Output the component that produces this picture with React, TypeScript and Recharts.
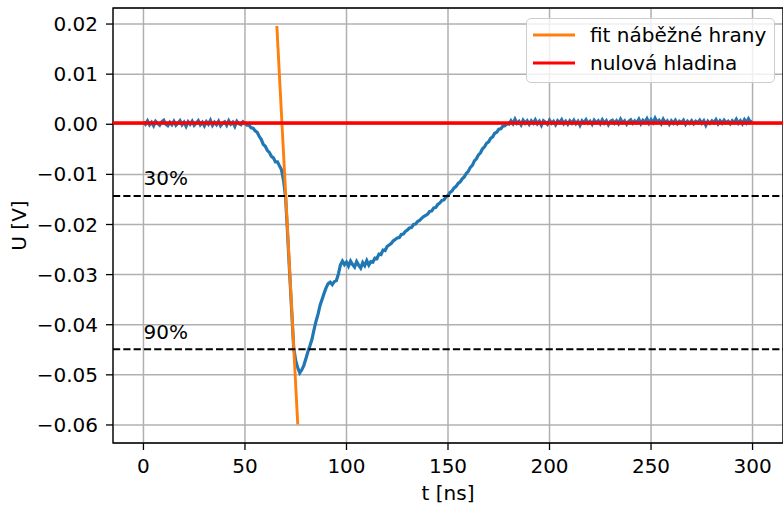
import { LineChart, Line, XAxis, YAxis, CartesianGrid, ReferenceLine, ReferenceArea, ReferenceDot, Legend } from 'recharts';

// sampling step of the scope trace [ns]
const T_STEP = 1;

// measured signal U [V], one sample per ns from 0 to 300 ns
const signalU = [
  0.0005, 0.0000, 0.0007, -0.0001, 0.0004, -0.0003, 0.0006, 0.0002, -0.0002, 0.0005,
  0.0008, 0.0000, -0.0003, 0.0004, -0.0001, 0.0006, -0.0002, 0.0002, 0.0007, -0.0001,
  0.0004, -0.0004, 0.0005, 0.0000, 0.0006, -0.0002, 0.0002, 0.0007, -0.0001, 0.0004,
  -0.0003, 0.0005, 0.0000, 0.0008, -0.0002, 0.0004, -0.0001, 0.0006, -0.0003, 0.0002,
  0.0005, -0.0002, 0.0007, 0.0000, 0.0004, -0.0004, 0.0006, 0.0001, -0.0001, 0.0005,
  0.0002, -0.0002, -0.0002, -0.0007, -0.0008, -0.0013, -0.0016, -0.0024, -0.0030, -0.0040,
  -0.0044, -0.0052, -0.0056, -0.0064, -0.0067, -0.0075, -0.0075, -0.0083, -0.0091, -0.0112,
  -0.0145, -0.0220, -0.0296, -0.0372, -0.0446, -0.0472, -0.0486, -0.0496, -0.0490, -0.0481,
  -0.0468, -0.0454, -0.0442, -0.0429, -0.0410, -0.0393, -0.0379, -0.0361, -0.0349, -0.0337,
  -0.0326, -0.0318, -0.0315, -0.0320, -0.0314, -0.0312, -0.0299, -0.0281, -0.0273, -0.0280,
  -0.0275, -0.0283, -0.0273, -0.0280, -0.0285, -0.0274, -0.0281, -0.0287, -0.0276, -0.0282,
  -0.0272, -0.0281, -0.0274, -0.0275, -0.0267, -0.0268, -0.0259, -0.0260, -0.0251, -0.0252,
  -0.0244, -0.0241, -0.0238, -0.0233, -0.0230, -0.0227, -0.0226, -0.0220, -0.0219, -0.0214,
  -0.0211, -0.0207, -0.0206, -0.0200, -0.0199, -0.0194, -0.0192, -0.0188, -0.0184, -0.0182,
  -0.0179, -0.0174, -0.0173, -0.0167, -0.0166, -0.0160, -0.0157, -0.0152, -0.0151, -0.0145,
  -0.0142, -0.0136, -0.0133, -0.0127, -0.0124, -0.0118, -0.0115, -0.0109, -0.0105, -0.0098,
  -0.0094, -0.0086, -0.0082, -0.0073, -0.0069, -0.0061, -0.0057, -0.0049, -0.0045, -0.0038,
  -0.0035, -0.0028, -0.0025, -0.0018, -0.0016, -0.0010, -0.0009, -0.0004, -0.0003, 0.0001,
  0.0000, 0.0007, 0.0001, 0.0010, 0.0002, 0.0006, -0.0001, 0.0008, 0.0002, 0.0007,
  0.0000, 0.0007, 0.0002, 0.0009, 0.0001, 0.0006, -0.0002, 0.0007, 0.0004, 0.0000,
  0.0008, 0.0002, 0.0006, -0.0001, 0.0007, 0.0003, 0.0009, 0.0001, 0.0006, 0.0000,
  0.0007, 0.0002, 0.0008, 0.0001, 0.0006, -0.0002, 0.0007, 0.0003, 0.0009, 0.0002,
  0.0006, 0.0000, 0.0008, 0.0003, 0.0007, 0.0001, 0.0009, 0.0002, 0.0007, -0.0001,
  0.0006, 0.0008, 0.0002, 0.0007, 0.0001, 0.0010, 0.0003, 0.0007, 0.0000, 0.0006,
  0.0009, 0.0002, 0.0007, 0.0003, 0.0010, 0.0001, 0.0008, 0.0004, 0.0011, 0.0002,
  0.0009, 0.0003, 0.0012, 0.0004, 0.0008, 0.0001, 0.0010, 0.0003, 0.0007, 0.0000,
  0.0007, 0.0002, 0.0008, 0.0001, 0.0006, 0.0003, 0.0008, 0.0000, 0.0006, 0.0002,
  0.0007, 0.0001, 0.0006, 0.0003, 0.0008, 0.0002, 0.0007, -0.0002, 0.0006, 0.0002,
  0.0007, 0.0003, 0.0009, 0.0001, 0.0007, 0.0002, 0.0008, 0.0003, 0.0006, 0.0001,
  0.0007, 0.0003, 0.0010, 0.0002, 0.0007, 0.0001, 0.0009, 0.0003, 0.0011, 0.0004,
  0.0006,
];

// leading edge fit: end points
const fitT = [65.7, 76.0];
const fitU = [0.0196, -0.0599];

const zeroLevel = 0.00026;
const levelValues = [-0.0143, -0.0449];
const levelLabels = ['30%', '90%'];
const levelLabelU = [-0.0122, -0.0429];

const xTicks = [0, 50, 100, 150, 200, 250, 300];
const yTicks = [-0.06, -0.05, -0.04, -0.03, -0.02, -0.01, 0.0, 0.01, 0.02];
const xDomain = [-15, 315];
const yDomain = [-0.0636, 0.0232];

const legendNames = ['fit náběžné hrany', 'nulová hladina'];
const legendColors = ['#ff7f0e', '#ff0000'];

const signalData = signalU.map((u, i) => ({ t: i * T_STEP, u }));
const fitData = fitT.map((t, i) => ({ t, u: fitU[i] }));

const FONT = 'DejaVu Sans, sans-serif';

const fmtY = (v: number) => {
  const s = Math.abs(v).toFixed(2);
  return v < -1e-9 ? '\u2212' + s : s;
};

function LegendBox() {
  return (
    <div style={{ width: 249, height: 65, border: '1px solid #cccccc', borderRadius: 5, background: 'rgba(255,255,255,0.8)', boxSizing: 'border-box' }}>
      <svg width={247} height={63}>
        {legendNames.map((name, i) => (
          <g key={name}>
            <line x1={6} x2={48} y1={16 + i * 28} y2={16 + i * 28} stroke={legendColors[i]} strokeWidth={3.2} />
            <text x={63} y={16 + i * 28} dy="0.35em" fontSize={20} fontFamily={FONT} fill="#000">{name}</text>
          </g>
        ))}
      </svg>
    </div>
  );
}

export default function App() {
  return (
    <div style={{ position: 'absolute', left: 0, top: 0, width: 783, height: 505, background: '#fff' }}>
      <LineChart width={783} height={505} margin={{ top: 8, right: 0, bottom: 0, left: 0 }}>
        <CartesianGrid stroke="#b0b0b0" strokeWidth={1.5} />
        <XAxis
          dataKey="t"
          type="number"
          domain={xDomain}
          ticks={xTicks}
          interval={0}
          allowDataOverflow
          height={62}
          axisLine={false}
          tickLine={{ stroke: '#000', strokeWidth: 1.3 }}
          tickSize={7}
          tickMargin={9}
          tick={{ fontSize: 20, fontFamily: FONT, fill: '#000' }}
          label={{ value: 't [ns]', position: 'insideBottom', offset: 5, fontSize: 20, fontFamily: FONT, fill: '#000' }}
        />
        <YAxis
          dataKey="u"
          type="number"
          domain={yDomain}
          ticks={yTicks}
          interval={0}
          allowDataOverflow
          width={113}
          axisLine={false}
          tickLine={{ stroke: '#000', strokeWidth: 1.3 }}
          tickSize={7}
          tickMargin={8}
          tickFormatter={fmtY}
          tick={{ fontSize: 20, fontFamily: FONT, fill: '#000' }}
          label={{ value: 'U [V]', angle: -90, position: 'insideLeft', offset: 19, fontSize: 20, fontFamily: FONT, fill: '#000', style: { textAnchor: 'middle' } }}
        />
        <Line data={signalData} dataKey="u" stroke="#1f77b4" strokeWidth={3.2} dot={false} isAnimationActive={false} />
        <Line data={fitData} dataKey="u" stroke="#ff7f0e" strokeWidth={2.9} dot={false} isAnimationActive={false} />
        <ReferenceLine y={zeroLevel} stroke="#ff0000" strokeWidth={3.6} />
        {levelValues.map((v) => (
          <ReferenceLine key={v} y={v} stroke="#000" strokeWidth={1.9} strokeDasharray="7.2 3.1" />
        ))}
        {levelLabels.map((lab, i) => (
          <ReferenceDot
            key={lab}
            x={0}
            y={levelLabelU[i]}
            r={0}
            fill="none"
            stroke="none"
            label={(p: any) => (
              <text x={p.viewBox.x} y={p.viewBox.y} fontSize={20} fontFamily={FONT} fill="#000">{lab}</text>
            )}
          />
        ))}
        <ReferenceArea x1={xDomain[0]} x2={xDomain[1]} y1={yDomain[0]} y2={yDomain[1]} fill="none" stroke="#000" strokeWidth={1.3} fillOpacity={0} />
        <Legend
          layout="vertical"
          align="center"
          verticalAlign="middle"
          wrapperStyle={{ position: 'absolute', left: 526, top: 18, width: 249, height: 65 }}
          content={() => <LegendBox />}
        />
      </LineChart>
    </div>
  );
}
